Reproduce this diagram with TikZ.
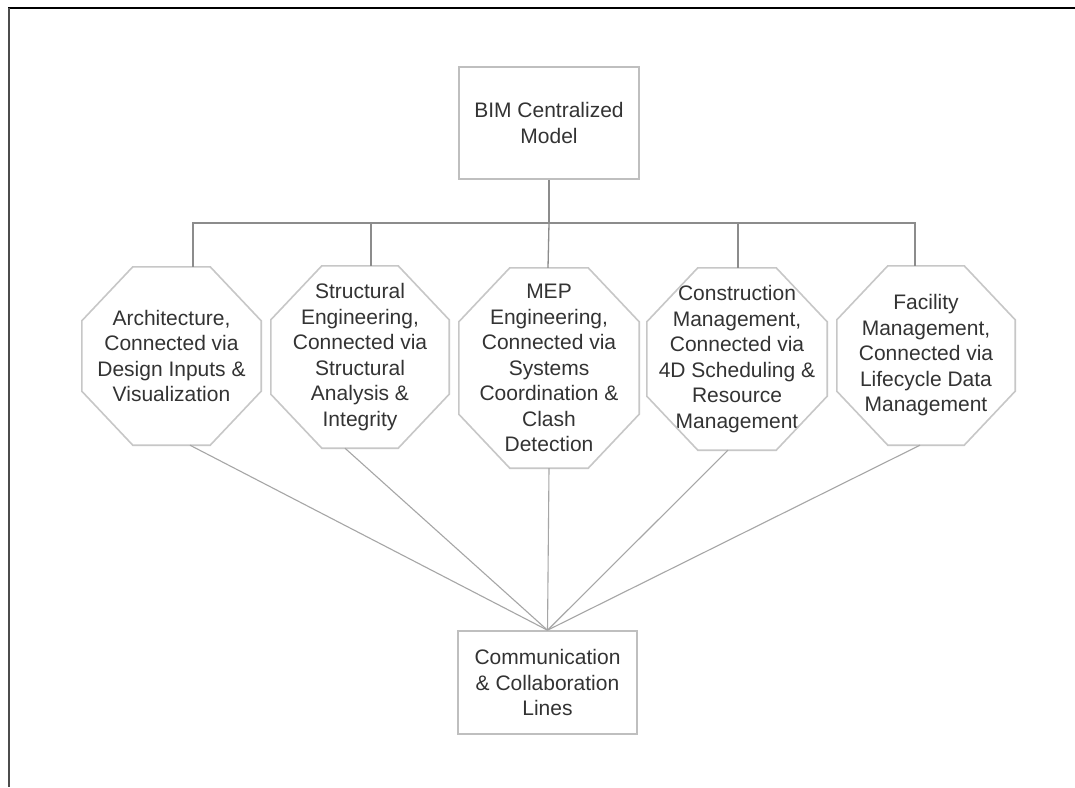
\documentclass[tikz,border=0pt]{standalone}
\usepackage{fontspec}
\setmainfont{Liberation Sans}
\begin{document}
\begin{tikzpicture}[x=1pt,y=-1pt,
  txt/.style={font=\fontsize{21}{25.5}\selectfont, text=black!80, align=center, inner sep=0pt},
  boxnode/.style={txt, draw=black!25, line width=1.6pt, minimum width=180pt},
  octnode/.style={txt, draw=none},
  octline/.style={draw=black!22, line width=1.6pt, line join=miter},
  bus/.style={draw=black!45, line width=1.3pt},
  link/.style={draw=black!35, line width=1.1pt}]
\useasboundingbox (0,0) rectangle (1075,787);
\fill[white] (0,0) rectangle (1075,787);
% frame
\draw[black, line width=2pt] (8,8) -- (1075,8);
\draw[black!70, line width=2pt] (9,8) -- (9,787);

% top box
\node[boxnode, minimum height=112pt] (top) at (549,123) {BIM Centralized\\Model};

% octagon nodes
\node[octnode, minimum width=179pt, minimum height=178pt] (arch) at (171.5,356) {Architecture,\\Connected via\\Design Inputs \&\\Visualization};
\node[octnode, minimum width=178pt, minimum height=182pt] (stru) at (360,357) {Structural\\Engineering,\\Connected via\\Structural\\Analysis \&\\Integrity};
\node[octnode, minimum width=180pt, minimum height=200pt] (mep) at (549,368) {MEP\\Engineering,\\Connected via\\Systems\\Coordination \&\\Clash\\Detection};
\node[octnode, minimum width=180pt, minimum height=182pt] (cons) at (737,359) {Construction\\Management,\\Connected via\\4D Scheduling \&\\Resource\\Management};
\node[octnode, minimum width=178pt, minimum height=179pt] (fac) at (926,355.5) {Facility\\Management,\\Connected via\\Lifecycle Data\\Management};

\foreach \n in {arch,stru,mep,cons,fac}{
  \draw[octline] ([xshift=51pt]\n.north west) -- ([xshift=-51pt]\n.north east)
     -- ([yshift=-54pt]\n.north east) -- ([yshift=54pt]\n.south east)
     -- ([xshift=-51pt]\n.south east) -- ([xshift=51pt]\n.south west)
     -- ([yshift=54pt]\n.south west) -- ([yshift=-54pt]\n.north west) -- cycle;
}

% bottom box
\node[boxnode, minimum width=179pt, minimum height=103pt] (bot) at (547.5,682.5) {Communication\\\& Collaboration\\Lines};

% bus
\coordinate (bus) at (549,223);
\draw[bus] (top.south) -- (bus);
\draw[bus] (bus) -| ([xshift=21.5pt]arch.north);
\draw[bus] (bus) -| ([xshift=11pt]stru.north);
\draw[bus] (bus) -- ([xshift=-1pt]mep.north);
\draw[bus] (bus) -| ([xshift=1pt]cons.north);
\draw[bus] (bus) -| ([xshift=-11pt]fac.north);

% links to bottom
\draw[link] ([xshift=18.5pt]arch.south) -- (bot.north);
\draw[link] ([xshift=-15pt]stru.south) -- (bot.north);
\draw[link] (mep.south) -- (bot.north);
\draw[link] ([xshift=-9pt]cons.south) -- (bot.north);
\draw[link] ([xshift=-6pt]fac.south) -- (bot.north);
\end{tikzpicture}
\end{document}
